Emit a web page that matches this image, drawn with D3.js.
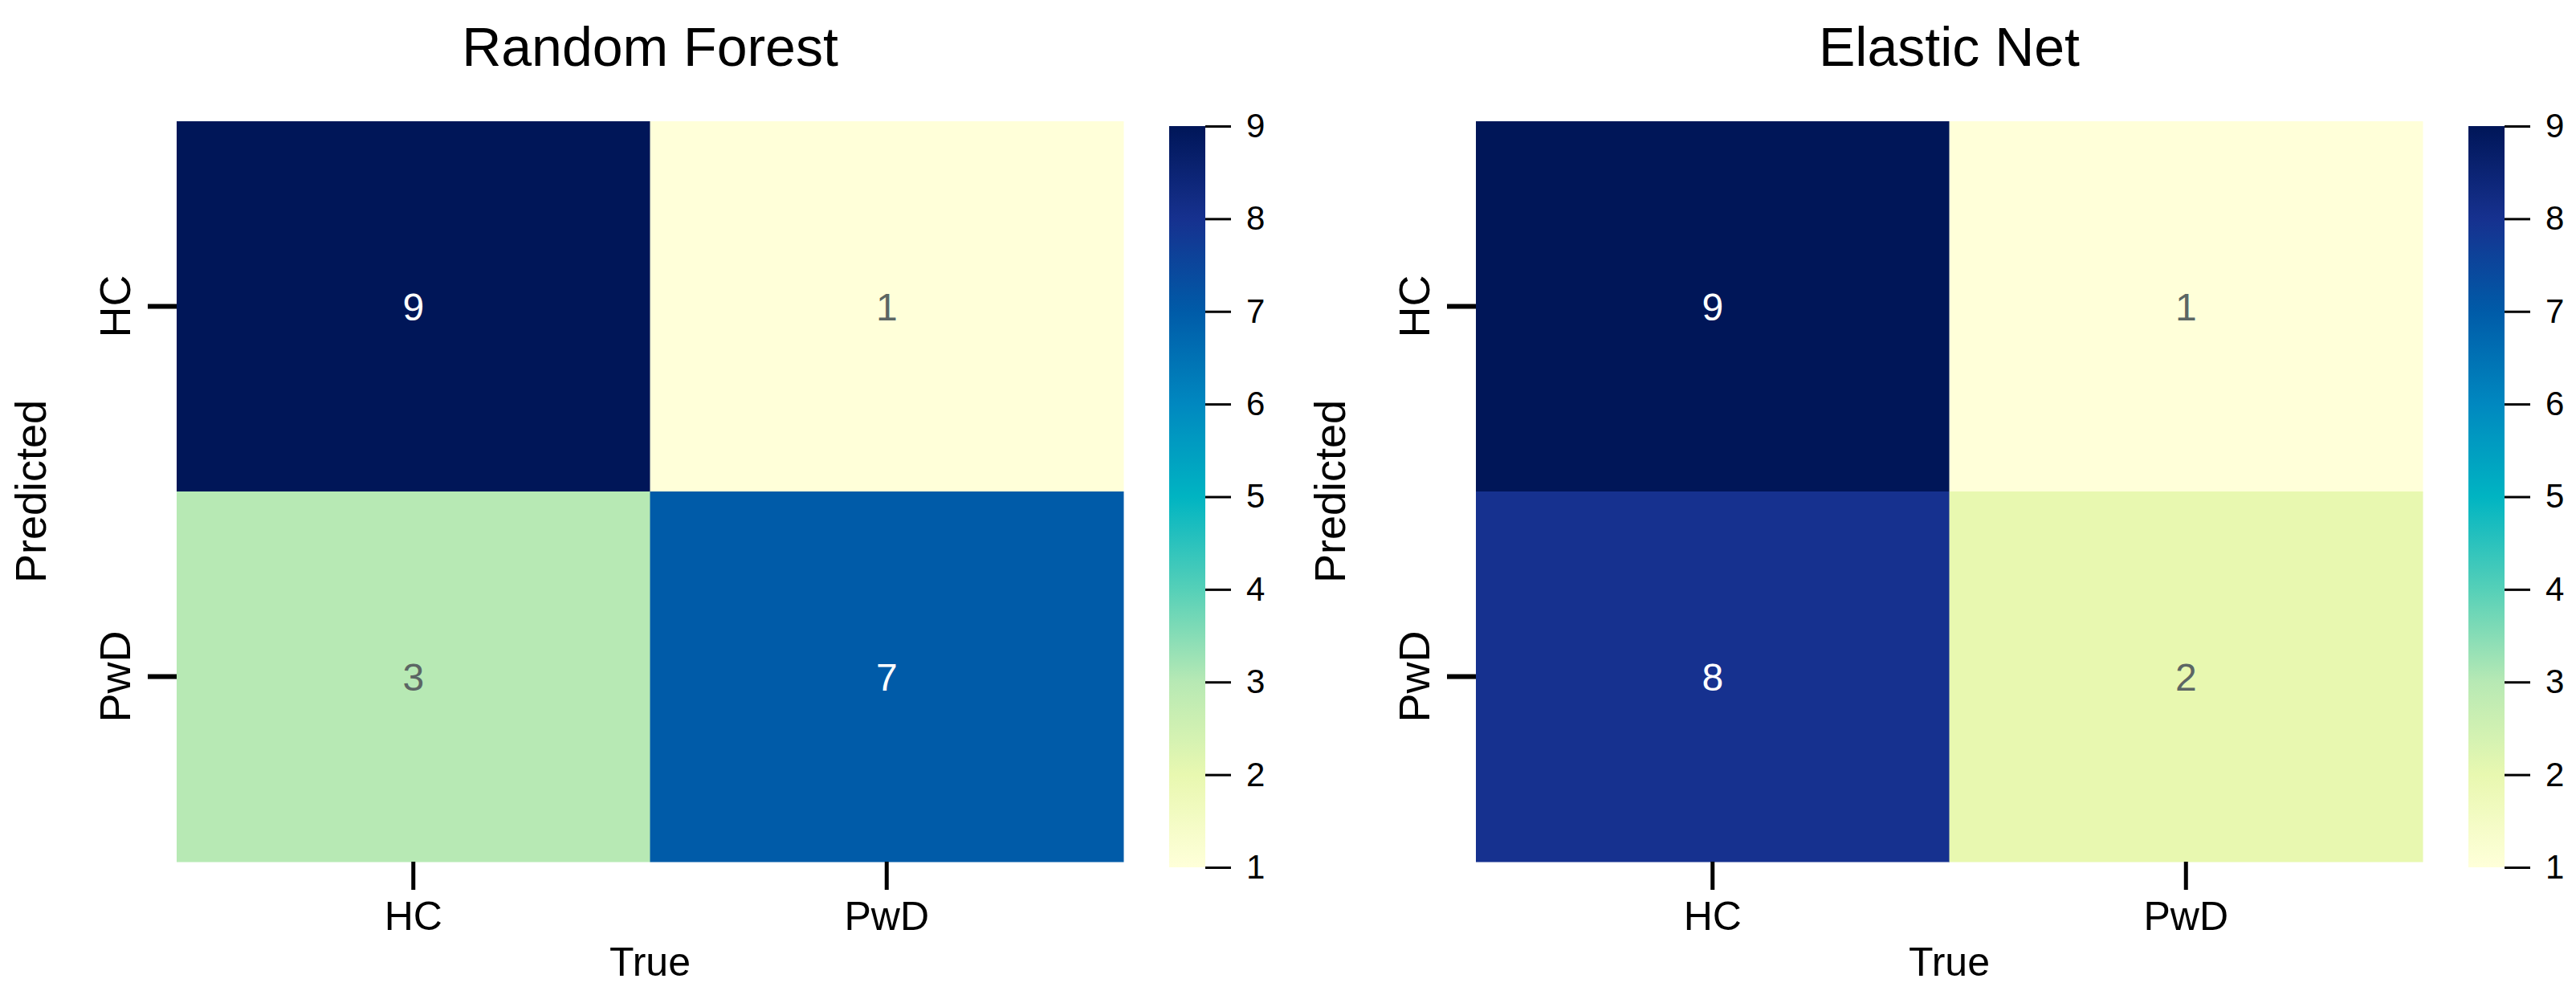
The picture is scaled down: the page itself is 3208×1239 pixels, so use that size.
<!DOCTYPE html>
<html>
<head>
<meta charset="utf-8">
<script src="https://cdn.jsdelivr.net/npm/d3@7"></script>
<style>
  body { margin: 0; background: #fff; }
  text { font-family: "Liberation Sans", Arial, sans-serif; }
</style>
</head>
<body>
<div id="chart"></div>
<script>
// données
const classes = ["HC", "PwD"];
const models = ["Random Forest", "Elastic Net"];
const rfValues = [[9, 1], [3, 7]]; // lignes = Predicted, colonnes = True
const enValues = [[9, 1], [8, 2]];
const cbarTicks = [1, 2, 3, 4, 5, 6, 7, 8, 9];

const W = 3208, H = 1239;
const panelOffset = 1618;
const hm = { left: 220, top: 151, width: 1179, height: 922 };
const cb = { left: 1456, top: 157, width: 45, bottom: 1080 };

// palette YlGnBu, teintes (plus saturées que ColorBrewer)
const palette = ["#ffffd9", "#e8f8b0", "#b7e9b4", "#55d0b8", "#00b4c2",
                 "#0088c0", "#005ba8", "#16318f", "#001658"];
const color = d3.scaleLinear()
    .domain(d3.range(9).map(i => 1 + i))
    .range(palette)
    .interpolate(d3.interpolateRgb);

const svg = d3.select("#chart").append("svg")
    .attr("width", W)
    .attr("height", H);

const defs = svg.append("defs");
const grad = defs.append("linearGradient")
    .attr("id", "cbar")
    .attr("x1", 0).attr("y1", 1).attr("x2", 0).attr("y2", 0);
d3.range(0, 1.0001, 0.025).forEach(t => {
    grad.append("stop")
        .attr("offset", t)
        .attr("stop-color", color(1 + 8 * t));
});

function drawPanel(title, values, dx) {
    const g = svg.append("g").attr("transform", `translate(${dx},0)`);

    const x = d3.scaleBand().domain(classes).range([hm.left, hm.left + hm.width]);
    const y = d3.scaleBand().domain(classes).range([hm.top, hm.top + hm.height]);

    const cells = [];
    values.forEach((row, i) => row.forEach((v, j) => cells.push({ pred: classes[i], truth: classes[j], v })));

    g.selectAll("rect.cell")
        .data(cells)
        .enter()
        .append("rect")
        .attr("class", "cell")
        .attr("x", d => x(d.truth))
        .attr("y", d => y(d.pred))
        .attr("width", x.bandwidth() + 0.5)
        .attr("height", y.bandwidth() + 0.5)
        .attr("fill", d => color(d.v));

    g.selectAll("text.annot")
        .data(cells)
        .enter()
        .append("text")
        .attr("class", "annot")
        .attr("x", d => x(d.truth) + x.bandwidth() / 2)
        .attr("y", d => y(d.pred) + y.bandwidth() / 2 + 17)
        .attr("text-anchor", "middle")
        .style("font-size", "48px")
        .attr("fill", d => d3.lab(color(d.v)).l > 60 ? "#5c6664" : "#ffffff")
        .text(d => d.v);

    // axes
    const yAxis = g.append("g")
        .attr("transform", `translate(${hm.left},0)`)
        .call(d3.axisLeft(y).tickSize(36).tickPadding(0));
    yAxis.select(".domain").remove();
    yAxis.selectAll(".tick line").attr("stroke", "#000").attr("stroke-width", 6);
    yAxis.selectAll(".tick text")
        .attr("x", 0).attr("dy", null)
        .attr("text-anchor", "middle")
        .attr("transform", "translate(-58,0) rotate(-90)")
        .style("font-size", "54px")
        .attr("fill", "#000");

    const xAxis = g.append("g")
        .attr("transform", `translate(0,${hm.top + hm.height})`)
        .call(d3.axisBottom(x).tickSize(35).tickPadding(0));
    xAxis.select(".domain").remove();
    xAxis.selectAll(".tick line").attr("stroke", "#000").attr("stroke-width", 5);
    xAxis.selectAll(".tick text")
        .attr("y", 85).attr("dy", null)
        .style("font-size", "50px")
        .attr("fill", "#000");

    // titres
    g.append("text")
        .attr("x", hm.left + hm.width / 2)
        .attr("y", 82)
        .attr("text-anchor", "middle")
        .style("font-size", "68px")
        .text(title);

    g.append("text")
        .attr("x", hm.left + hm.width / 2)
        .attr("y", 1215)
        .attr("text-anchor", "middle")
        .style("font-size", "50px")
        .text("True");

    g.append("text")
        .attr("transform", `translate(57,${hm.top + hm.height / 2}) rotate(-90)`)
        .attr("text-anchor", "middle")
        .style("font-size", "54px")
        .text("Predicted");

    // barre de couleur
    g.append("rect")
        .attr("x", cb.left)
        .attr("y", cb.top)
        .attr("width", cb.width)
        .attr("height", cb.bottom - cb.top)
        .attr("fill", "url(#cbar)");

    const cy = d3.scaleLinear().domain([1, 9]).range([cb.bottom, cb.top]);
    const cAxis = g.append("g")
        .attr("transform", `translate(${cb.left + cb.width},0)`)
        .call(d3.axisRight(cy).tickValues(cbarTicks).tickSize(32).tickPadding(19));
    cAxis.select(".domain").remove();
    cAxis.selectAll(".tick line").attr("stroke", "#000").attr("stroke-width", 3);
    cAxis.selectAll(".tick text")
        .style("font-size", "42px")
        .attr("fill", "#000");
}

drawPanel(models[0], rfValues, 0);
drawPanel(models[1], enValues, panelOffset);
</script>
</body>
</html>
